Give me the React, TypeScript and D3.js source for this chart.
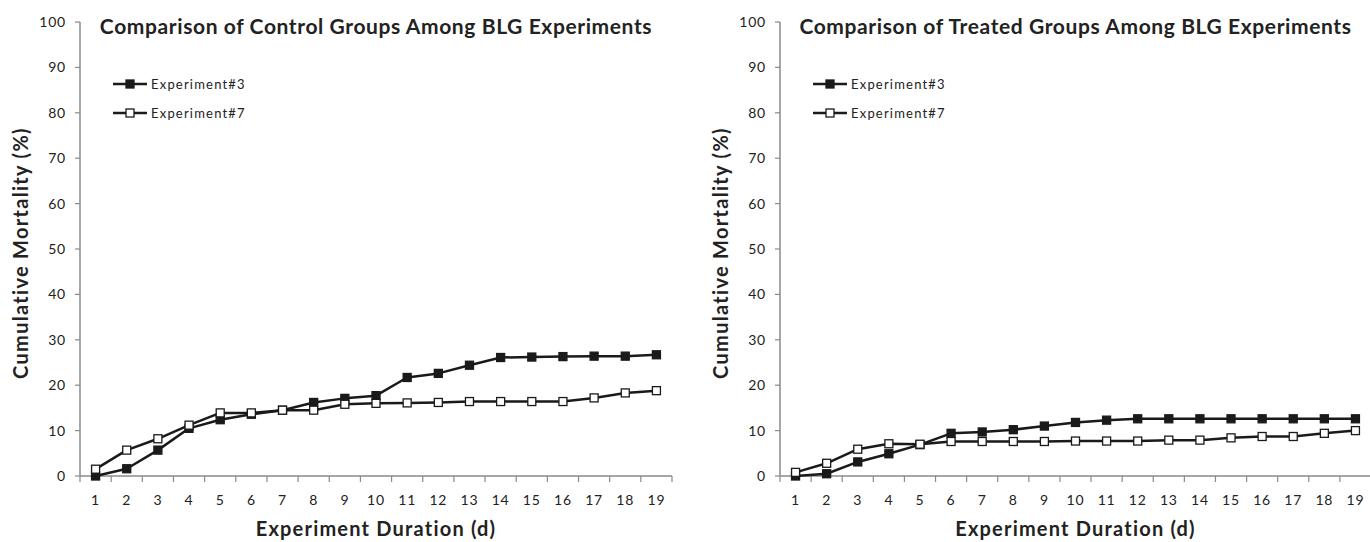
import React from "react";
import * as d3 from "d3";

const days = [1, 2, 3, 4, 5, 6, 7, 8, 9, 10, 11, 12, 13, 14, 15, 16, 17, 18, 19];
const yTicks = [0, 10, 20, 30, 40, 50, 60, 70, 80, 90, 100];

const controlExp3 = [0, 1.6, 5.7, 10.5, 12.4, 13.6, 14.5, 16.2, 17.1, 17.7, 21.7, 22.6, 24.4, 26.1, 26.2, 26.3, 26.4, 26.4, 26.7];
const controlExp7 = [1.5, 5.7, 8.2, 11.2, 13.9, 13.9, 14.5, 14.5, 15.8, 16.0, 16.1, 16.2, 16.4, 16.4, 16.4, 16.4, 17.2, 18.3, 18.8];
const treatedExp3 = [0, 0.5, 3.1, 4.9, 6.9, 9.4, 9.7, 10.2, 11.0, 11.8, 12.3, 12.6, 12.6, 12.6, 12.6, 12.6, 12.6, 12.6, 12.6];
const treatedExp7 = [0.8, 2.8, 5.9, 7.1, 7.0, 7.6, 7.6, 7.6, 7.6, 7.7, 7.7, 7.7, 7.9, 7.9, 8.4, 8.7, 8.7, 9.4, 10.0];

const seriesNames = ["Experiment#3", "Experiment#7"];
const titles = [
  "Comparison of Control Groups Among BLG Experiments",
  "Comparison of Treated Groups Among BLG Experiments",
];
const yTitle = "Cumulative Mortality (%)";
const xTitle = "Experiment Duration (d)";

const FONT = "Lato, 'Open Sans', sans-serif";
const AXIS = "#8a8a8a";
const INK = "#1a1a1a";

function Panel({ x0, x1, title, s3, s7 }: { x0: number; x1: number; title: string; s3: number[]; s7: number[] }) {
  const y = d3.scaleLinear().domain([0, 100]).range([476, 22]);
  const x = d3.scaleBand<number>().domain(days).range([x0, x1]);
  const cx = (d: number) => (x(d) as number) + x.bandwidth() / 2;
  const line = d3
    .line<number>()
    .x((_, i) => cx(days[i]))
    .y((v) => y(v));
  const edges = days.map((d) => x(d) as number).concat([x1]);
  const mid = (x0 + x1) / 2;
  const series = [
    { vals: s3, fill: INK },
    { vals: s7, fill: "#ffffff" },
  ];
  const m = 8;
  return (
    <g>
      {/* y axis */}
      <line x1={x0} x2={x0} y1={y(100)} y2={y(0)} stroke={AXIS} strokeWidth={1.5} />
      {yTicks.map((t) => (
        <g key={t}>
          <line x1={x0 - 5} x2={x0} y1={y(t)} y2={y(t)} stroke={AXIS} strokeWidth={1.2} />
          <text x={x0 - 14} y={y(t)} dy="0.35em" textAnchor="end" fontSize={14} letterSpacing={0.8} fill="#222" fontFamily={FONT}>
            {t}
          </text>
        </g>
      ))}
      {/* x axis */}
      <line x1={x0} x2={x1} y1={y(0)} y2={y(0)} stroke={AXIS} strokeWidth={1.5} />
      {edges.map((e, i) => (
        <line key={i} x1={e} x2={e} y1={y(0)} y2={y(0) + 6} stroke={AXIS} strokeWidth={1.2} />
      ))}
      {days.map((d) => (
        <text key={d} x={cx(d)} y={500} dy="0.35em" textAnchor="middle" fontSize={14} letterSpacing={0.8} fill="#222" fontFamily={FONT}>
          {d}
        </text>
      ))}
      {/* titles */}
      <text x={mid} y={34} textAnchor="middle" fontSize={21} letterSpacing={0.6} fontWeight={700} fill="#222" fontFamily={FONT}>
        {title}
      </text>
      <text x={mid} y={536} textAnchor="middle" fontSize={20} letterSpacing={1.2} fontWeight={700} fill="#222" fontFamily={FONT}>
        {xTitle}
      </text>
      <text
        transform={`translate(${x0 - 52},${(y(0) + y(100)) / 2 + 4}) rotate(-90)`}
        textAnchor="middle"
        fontSize={20}
        letterSpacing={1.3}
        fontWeight={700}
        fill="#222"
        fontFamily={FONT}
      >
        {yTitle}
      </text>
      {/* series */}
      {series.map((s, si) => (
        <g key={si}>
          <path d={line(s.vals) || ""} fill="none" stroke={INK} strokeWidth={2.5} strokeLinejoin="round" />
          {s.vals.map((v, i) => (
            <rect key={i} x={cx(days[i]) - m / 2} y={y(v) - m / 2} width={m} height={m} fill={s.fill} stroke={INK} strokeWidth={1.3} />
          ))}
        </g>
      ))}
      {/* legend */}
      {series.map((s, si) => {
        const ly = 84 + si * 29;
        const lx = x0 + 33;
        return (
          <g key={si}>
            <line x1={lx} x2={lx + 34} y1={ly} y2={ly} stroke={INK} strokeWidth={2.5} />
            <rect x={lx + 17 - m / 2} y={ly - m / 2} width={m} height={m} fill={s.fill} stroke={INK} strokeWidth={1.3} />
            <text x={lx + 38} y={ly} dy="0.35em" fontSize={13} letterSpacing={1.2} fill="#222" fontFamily={FONT}>
              {seriesNames[si]}
            </text>
          </g>
        );
      })}
    </g>
  );
}

export default function App() {
  return (
    <svg width={1370} height={542} style={{ position: "absolute", left: 0, top: 0, background: "#fff" }}>
      <rect width={1370} height={542} fill="#fff" />
      <Panel x0={80} x1={672} title={titles[0]} s3={controlExp3} s7={controlExp7} />
      <Panel x0={780} x1={1371} title={titles[1]} s3={treatedExp3} s7={treatedExp7} />
    </svg>
  );
}
